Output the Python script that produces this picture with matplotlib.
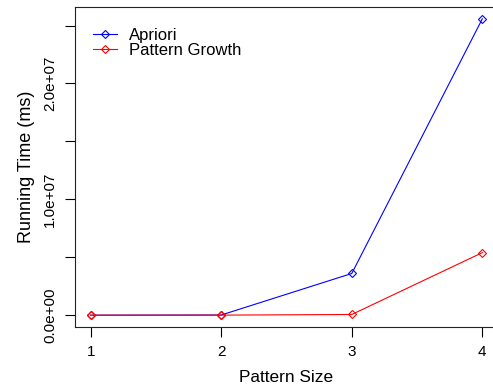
import matplotlib
matplotlib.use("Agg")
import matplotlib.pyplot as plt

pattern_size = [1, 2, 3, 4]
apriori = [2.0e3, 1.5e4, 3.6e6, 2.558e7]
pattern_growth = [1.0e3, 5.0e3, 6.0e4, 5.4e6]
series_names = ["Apriori", "Pattern Growth"]
y_ticks = [0, 5e6, 1e7, 1.5e7, 2e7, 2.5e7]
y_tick_labels = ["0.0e+00", "", "1.0e+07", "", "2.0e+07", ""]

plt.rcParams['font.family'] = ['Liberation Sans', 'DejaVu Sans']

fig = plt.figure(figsize=(4.93, 3.89), dpi=100)
ax_w = (498 - 75) / 493
ax_h = (327 - 7) / 389
ax = fig.add_axes([75/493, 62/389, ax_w, ax_h])

ax.plot(pattern_size, apriori, color="#0000FF", lw=0.8, marker="D", ms=3.6,
        mfc="none", mec="#0000FF", mew=0.8, label=series_names[0])
ax.plot(pattern_size, pattern_growth, color="#FF0000", lw=0.8, marker="D", ms=3.6,
        mfc="none", mec="#FF0000", mew=0.8, label=series_names[1])

ax.set_xlim(0.88, 4.12)
ax.set_ylim(-1.02e6, 2.66e7)
ax.set_xticks(pattern_size)
ax.set_xticklabels([str(v) for v in pattern_size])
ax.set_yticks(y_ticks)
ax.set_yticklabels(y_tick_labels, rotation=90, va="center")
ax.tick_params(axis="both", direction="out", length=7, width=0.8, pad=6)
ax.tick_params(axis="x", labelsize=11)
ax.tick_params(axis="y", labelsize=11)
for s in ax.spines.values():
    s.set_linewidth(0.8)
    s.set_color("#222222")

ax.set_xlabel("Pattern Size", fontsize=12.4, labelpad=8)
ax.set_ylabel("Running Time (ms)", fontsize=13, labelpad=6)

ax.legend(loc="upper left", frameon=False, fontsize=12, handlelength=1.45,
          handletextpad=0.7, labelspacing=0.0, borderaxespad=0.0, borderpad=0.0,
          bbox_to_anchor=(18/423, 0.935))

fig.savefig("out.png", dpi=100)
